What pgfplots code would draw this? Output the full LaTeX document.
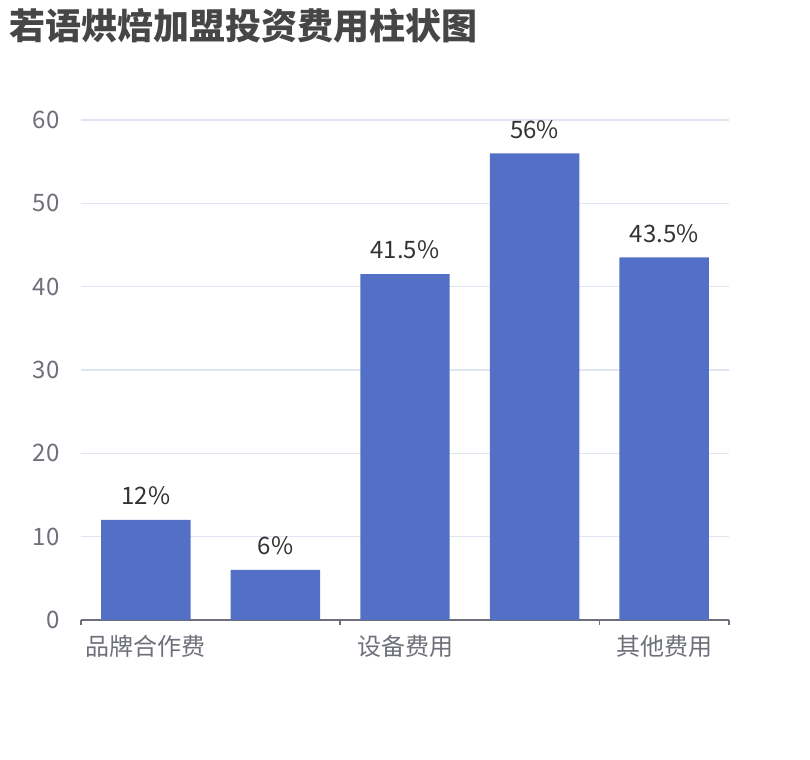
\documentclass[border=0pt]{standalone}
\usepackage{pgfplots}
\pgfplotsset{compat=1.18}
\usepackage{fontspec}
\setmainfont{Noto Sans CJK SC}
\definecolor{barblue}{HTML}{5470C6}
\definecolor{axisgray}{HTML}{6E7079}
\definecolor{gridc}{HTML}{E0E6F1}
\definecolor{titlec}{HTML}{464646}
\definecolor{labelc}{HTML}{333333}
\begin{document}
\begin{tikzpicture}
\useasboundingbox (0,0) rectangle (607.5pt,570pt);
\node[anchor=west,inner sep=0pt,text=titlec,font=\fontsize{27pt}{30pt}\selectfont\bfseries]
  at (7pt,551pt) {若语烘焙加盟投资费用柱状图};
\begin{axis}[
  at={(60.75pt,105pt)}, anchor=south west,
  width=486pt, height=375pt, scale only axis,
  ybar, bar width=0.69,
  xmin=-0.5, xmax=4.5, ymin=0, ymax=60,
  ytick={0,10,...,60},
  xtick={-0.5,1.5,3.5,4.5}, xticklabels={},
  extra x ticks={0,2,4},
  extra x tick labels={品牌合作费,设备费用,其他费用},
  extra x tick style={major tick length=0pt, grid=none},
  axis x line*=bottom, axis y line*=left,
  x axis line style={draw=axisgray, line width=1.3pt, -},
  y axis line style={draw=none},
  xtick style={draw=axisgray, line width=1.2pt},
  ytick style={draw=none},
  tick align=outside, major tick length=4pt,
  ymajorgrids, grid style={draw=gridc, line width=1pt},
  /pgf/number format/assume math mode=true,
  tick label style={font=\fontsize{18pt}{20pt}\selectfont, text=axisgray},
  yticklabel style={anchor=east, inner sep=0pt, xshift=-12pt},
  xticklabel style={anchor=center, inner sep=0pt, yshift=-20pt},
  nodes near coords={\pgfmathprintnumber{\pgfplotspointmeta}\%},
  every node near coord/.append style={anchor=center, yshift=18pt,
     font=\fontsize{18pt}{20pt}\selectfont, text=labelc, inner sep=0pt},
]
\addplot[fill=barblue, draw=none] coordinates {(0,12) (1,6) (2,41.5) (3,56) (4,43.5)};
\end{axis}
\end{tikzpicture}
\end{document}
